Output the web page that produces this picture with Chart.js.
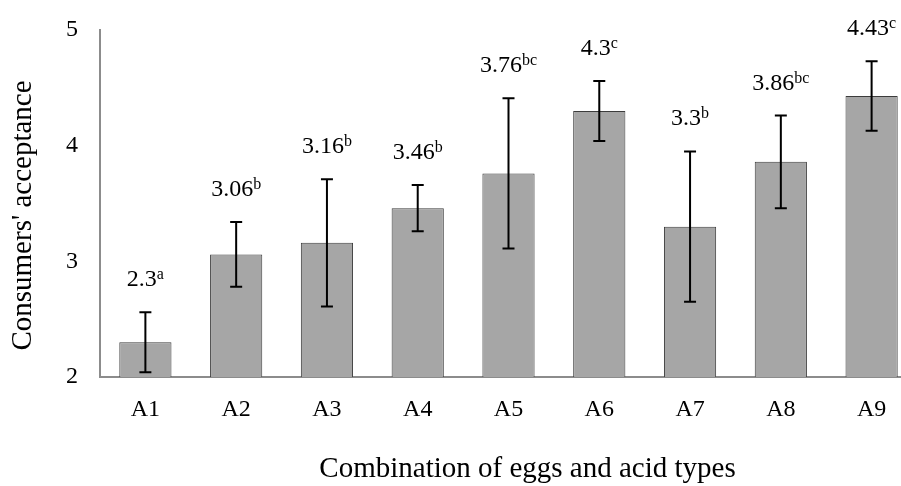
<!DOCTYPE html>
<html>
<head>
<meta charset="utf-8">
<script src="https://cdn.jsdelivr.net/npm/chart.js@4.4.1/dist/chart.umd.min.js"></script>
<style>
  html, body { margin: 0; padding: 0; background: #fff; overflow: hidden; }
  #wrap { width: 918px; height: 486px; }
</style>
</head>
<body>
<div id="wrap"><canvas id="myChart" width="918" height="486"></canvas></div>
<script>
// Data
const categories = ["A1", "A2", "A3", "A4", "A5", "A6", "A7", "A8", "A9"];
const means = [2.3, 3.06, 3.16, 3.46, 3.76, 4.3, 3.3, 3.86, 4.43];
const errors = [0.26, 0.28, 0.55, 0.2, 0.65, 0.26, 0.65, 0.4, 0.3];
const letters = ["a", "b", "b", "b", "bc", "c", "b", "bc", "c"];
const yTicks = [2, 3, 4, 5];
const xTitle = "Combination of eggs and acid types";
const yTitle = "Consumers' acceptance";

const serif = "'Liberation Serif', 'Times New Roman', serif";

// error bars + value labels with superscript letters
const errorBarPlugin = {
    id: "errorBars",
    afterDatasetsDraw(chart) {
        const ctx = chart.ctx;
        const meta = chart.getDatasetMeta(0);
        const y = chart.scales.y;
        ctx.save();
        meta.data.forEach((bar, i) => {
            const x = bar.x;
            const top = y.getPixelForValue(means[i] + errors[i]);
            const bottom = y.getPixelForValue(means[i] - errors[i]);
            ctx.strokeStyle = "#000";
            ctx.lineWidth = 2;
            ctx.beginPath();
            ctx.moveTo(x, top);
            ctx.lineTo(x, bottom);
            ctx.moveTo(x - 6, top);
            ctx.lineTo(x + 6, top);
            ctx.moveTo(x - 6, bottom);
            ctx.lineTo(x + 6, bottom);
            ctx.stroke();

            // label
            const num = String(means[i]);
            ctx.font = "24px " + serif;
            const w1 = ctx.measureText(num).width;
            ctx.font = "16px " + serif;
            const w2 = ctx.measureText(letters[i]).width;
            const start = x - (w1 + w2) / 2;
            const base = top - 26;
            ctx.fillStyle = "#000";
            ctx.textBaseline = "alphabetic";
            ctx.textAlign = "left";
            ctx.font = "24px " + serif;
            ctx.fillText(num, start, base);
            ctx.font = "16px " + serif;
            ctx.fillText(letters[i], start + w1, base - 7);
        });
        ctx.restore();
    }
};

// axis titles
const titlePlugin = {
    id: "axisTitles",
    afterDraw(chart) {
        const ctx = chart.ctx;
        const area = chart.chartArea;
        ctx.save();
        ctx.fillStyle = "#000";
        ctx.font = "29px " + serif;
        ctx.textAlign = "center";
        ctx.textBaseline = "middle";
        ctx.fillText(xTitle, (area.left + area.right) / 2 + 19, chart.height - 17);
        ctx.translate(23, (area.top + area.bottom) / 2 + 12);
        ctx.rotate(-Math.PI / 2);
        ctx.fillText(yTitle, 0, 0);
        ctx.restore();
    }
};

const ctx = document.getElementById("myChart").getContext("2d");
const myChart = new Chart(ctx, {
    type: "bar",
    data: {
        labels: categories,
        datasets: [{
            data: means,
            backgroundColor: "#a6a6a6",
            borderColor: "#3c3c3c",
            borderWidth: 1,
            categoryPercentage: 1,
            barPercentage: 0.575
        }]
    },
    options: {
        responsive: false,
        animation: false,
        layout: { padding: { top: 30, right: 1, bottom: 0, left: 0 } },
        plugins: {
            legend: { display: false },
            tooltip: { enabled: false }
        },
        scales: {
            x: {
                grid: { display: false, drawTicks: false },
                border: { color: "#8c8c8c", width: 2 },
                ticks: { color: "#000", font: { family: serif, size: 24 }, padding: 18 },
                afterFit(scale) { scale.height = 109; }
            },
            y: {
                min: 2,
                max: 5,
                afterBuildTicks(scale) { scale.ticks = yTicks.map(v => ({ value: v })); },
                grid: { display: false, drawTicks: false },
                border: { color: "#8c8c8c", width: 2 },
                ticks: { color: "#000", font: { family: serif, size: 24 }, padding: 22 },
                afterFit(scale) {
                    scale.width = 100;
                    scale.paddingTop = 0;
                    scale.paddingBottom = 0;
                }
            }
        }
    },
    plugins: [errorBarPlugin, titlePlugin]
});
</script>
</body>
</html>
